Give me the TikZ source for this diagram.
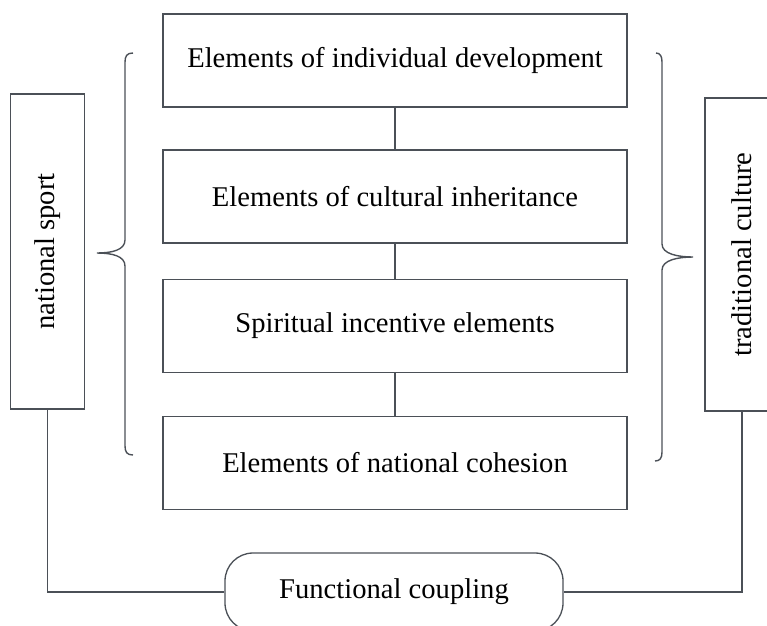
\documentclass[tikz,border=0pt]{standalone}
\usepackage{fontspec}
\setmainfont{Liberation Serif}
\definecolor{linegray}{HTML}{4B5057}
\begin{document}
\begin{tikzpicture}
  [
    x=1pt, y=-1pt,
    line width=1.3pt,
    every node/.style={font=\fontsize{28.6}{34}\selectfont, inner sep=0pt},
    element/.style={draw=linegray, minimum width=464pt, minimum height=93pt},
    side/.style={draw=linegray, rotate=90, minimum height=74pt},
    link/.style={draw=linegray},
    brace/.style={draw=linegray, line width=1.4pt}
  ]
  \useasboundingbox (0,0) rectangle (767,625);

  % middle column
  \node [element] (indiv) at (395,60.5) {Elements of individual development};
  \node [element] (cultural) at (395,196.5) {Elements of cultural inheritance};
  \node [element] (spirit) at (395,326) {Spiritual incentive elements};
  \node [element] (cohesion) at (395,463) {Elements of national cohesion};

  \draw [link] (indiv) -- (cultural);
  \draw [link] (cultural) -- (spirit);
  \draw [link] (spirit) -- (cohesion);

  % both sides
  \node [side, minimum width=315pt] (sport) at (47.5,251.5) {national sport};
  \node [side, minimum width=313pt] (culture) at (742,254.5) {traditional culture};

  \draw [brace] (133,53) .. controls (127,53) and (125,56) .. (125,62)
    -- (125,240) .. controls (125,250) and (112,253) .. (97,253)
    .. controls (112,253) and (125,256) .. (125,266)
    -- (125,446) .. controls (125,452) and (127,455) .. (133,455);
  \draw [brace] (656,53) .. controls (660,53) and (662,56) .. (662,62)
    -- (662,244) .. controls (662,254) and (678,257) .. (693,257)
    .. controls (678,257) and (662,260) .. (662,270)
    -- (662,452) .. controls (662,458) and (660,461) .. (655,461);

  % bottom
  \node [draw=linegray, rounded corners=28pt, minimum width=338pt,
    minimum height=78pt] (coupling) at (394,592) {Functional coupling};

  \draw [link] (sport) |- (coupling);
  \draw [link] (culture) |- (coupling);
\end{tikzpicture}
\end{document}
